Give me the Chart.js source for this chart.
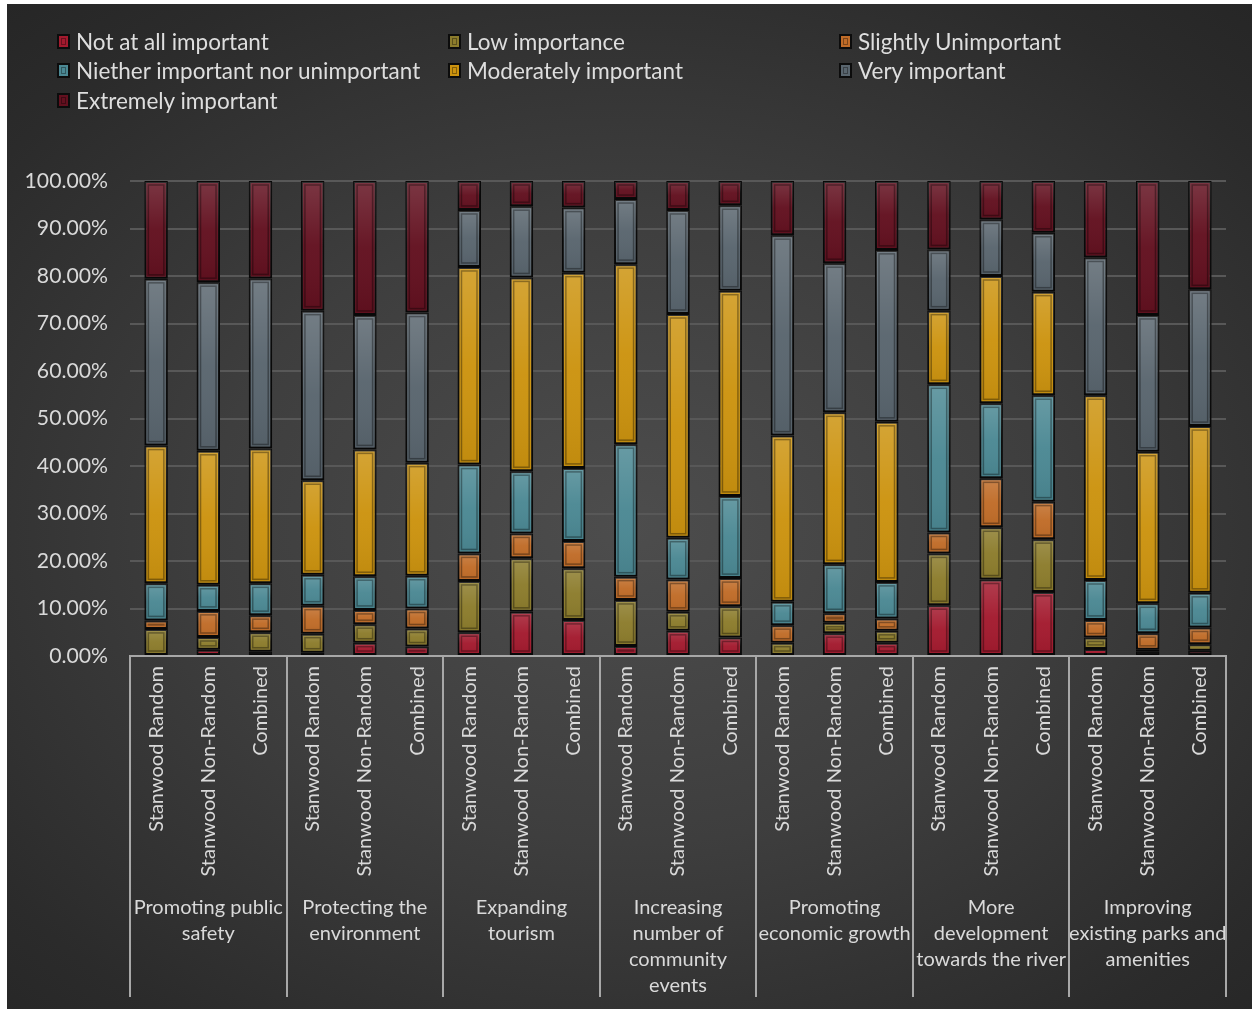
<!DOCTYPE html>
<html>
<head>
<meta charset="utf-8">
<script src="https://cdn.jsdelivr.net/npm/chart.js@4.4.1/dist/chart.umd.min.js"></script>
<style>
  html, body { margin: 0; padding: 0; background: #ffffff; }
  #wrap {
    position: absolute; left: 7px; top: 4px; width: 1245px; height: 1005px;
    background: radial-gradient(ellipse 75% 70% at 50% 52%, #4d4d4d 0%, #3e3e3e 45%, #2b2b2b 85%, #262626 100%);
    overflow: hidden;
  }
  #chart { position: absolute; left: 0; top: 0; }
  #legend {
    position: absolute; left: 50px; top: 24px;
    display: grid; grid-template-columns: 391px 391px 391px; row-gap: 3.5px;
    font-family: Lato, "Open Sans", sans-serif; font-size: 22.5px; color: #dedede;
  }
  .item { display: flex; align-items: center; height: 26px; white-space: nowrap; }
  .box {
    width: 13px; height: 15px; margin-right: 6px; box-sizing: border-box;
    border: 2px solid #0c0c0c; position: relative; flex: none;
  }
  .box::after {
    content: ""; position: absolute; left: 2px; top: 2px; right: 2px; bottom: 2px;
    border: 1px solid rgba(0,0,0,0.35);
  }
</style>
</head>
<body>
<div id="wrap">
  <canvas id="chart" width="1245" height="1005"></canvas>
  <div id="legend"></div>
</div>
<script>
// ---- data ----
const categories = [
  "Stanwood Random", "Stanwood Non-Random", "Combined",
  "Stanwood Random", "Stanwood Non-Random", "Combined",
  "Stanwood Random", "Stanwood Non-Random", "Combined",
  "Stanwood Random", "Stanwood Non-Random", "Combined",
  "Stanwood Random", "Stanwood Non-Random", "Combined",
  "Stanwood Random", "Stanwood Non-Random", "Combined",
  "Stanwood Random", "Stanwood Non-Random", "Combined"
];
const groups = [
  ["Promoting public", "safety"],
  ["Protecting the", "environment"],
  ["Expanding", "tourism"],
  ["Increasing", "number of", "community", "events"],
  ["Promoting", "economic growth"],
  ["More", "development", "towards the river"],
  ["Improving", "existing parks and", "amenities"]
];
const seriesNames = [
  "Not at all important", "Low importance", "Slightly Unimportant",
  "Niether important nor unimportant", "Moderately important", "Very important",
  "Extremely important"
];
const notAtAll   = [0, 1.3, 0.9, 0.7, 2.8, 2.0, 5.0, 9.3, 7.6, 2.1, 5.3, 3.9, 0, 4.8, 2.8, 10.7, 16.1, 13.5, 1.5, 0.9, 1.1];
const lowImp     = [5.7, 2.7, 4.1, 4.0, 3.9, 3.8, 10.8, 11.3, 10.9, 9.7, 4.0, 6.6, 2.8, 2.2, 2.5, 10.9, 11.0, 11.1, 2.4, 0.4, 1.4];
const slightly   = [1.8, 5.5, 3.6, 5.9, 3.0, 4.2, 5.8, 5.2, 5.7, 4.9, 6.8, 5.9, 3.7, 2.0, 2.6, 4.4, 10.3, 7.9, 3.7, 3.5, 3.5];
const neither    = [7.8, 5.5, 6.7, 6.5, 7.1, 6.9, 18.7, 13.1, 15.4, 27.9, 8.8, 17.3, 4.9, 10.3, 7.7, 31.2, 15.8, 22.4, 8.4, 6.3, 7.3];
const moderately = [29.0, 28.2, 28.4, 19.9, 26.7, 23.8, 41.6, 40.8, 41.1, 37.9, 47.1, 43.2, 35.0, 32.0, 33.7, 15.5, 26.8, 21.8, 38.9, 31.9, 35.1];
const veryImp    = [35.1, 35.5, 35.8, 35.7, 28.3, 31.6, 12.0, 15.0, 13.7, 13.7, 21.9, 18.0, 42.2, 31.4, 36.2, 12.9, 11.9, 12.4, 29.0, 28.8, 28.8];
const extremely  = [20.6, 21.3, 20.5, 27.3, 28.2, 27.7, 6.1, 5.3, 5.6, 3.8, 6.1, 5.1, 11.4, 17.3, 14.5, 14.4, 8.1, 10.9, 16.1, 28.2, 22.8];
const yTicks = [0, 10, 20, 30, 40, 50, 60, 70, 80, 90, 100];

const seriesData = [notAtAll, lowImp, slightly, neither, moderately, veryImp, extremely];
const colors = ["#a31a2e", "#8c7c2c", "#c06c28", "#4b8893", "#cc930f", "#59656e", "#62101f"];

const FONT = "Lato, 'Open Sans', sans-serif";
const TEXT = "#d9d9d9";

const datasets = seriesNames.map((n, i) => ({
  label: n,
  data: seriesData[i],
  backgroundColor: colors[i],
  borderColor: "#080808",
  borderWidth: 2,
  borderSkipped: false,
  categoryPercentage: 1,
  barPercentage: 0.45,
  stack: "s"
}));

// bevel / shading plugin
const bevel = {
  id: "bevel",
  afterDatasetsDraw(chart) {
    const ctx = chart.ctx;
    chart.data.datasets.forEach((ds, di) => {
      const meta = chart.getDatasetMeta(di);
      meta.data.forEach(el => {
        const top = Math.min(el.y, el.base), bot = Math.max(el.y, el.base);
        const h = bot - top; if (h < 2) return;
        const l = el.x - el.width / 2, w = el.width;
        ctx.save();
        const g = ctx.createLinearGradient(0, top, 0, bot);
        g.addColorStop(0, "rgba(255,255,255,0.16)");
        g.addColorStop(0.5, "rgba(255,255,255,0.03)");
        g.addColorStop(1, "rgba(0,0,0,0.06)");
        ctx.fillStyle = g;
        ctx.fillRect(l + 1, top + 1, w - 2, h - 2);
        if (h > 8) {
          ctx.strokeStyle = "rgba(0,0,0,0.35)";
          ctx.lineWidth = 1.5;
          ctx.strokeRect(l + 4, top + 4, w - 8, h - 8);
        }
        ctx.restore();
      });
    });
  }
};

// group separators
const separators = {
  id: "separators",
  afterDraw(chart) {
    const ctx = chart.ctx, a = chart.chartArea;
    const n = groups.length, step = (a.right - a.left) / n;
    ctx.save();
    ctx.strokeStyle = "#a8a8a8";
    ctx.lineWidth = 2;
    for (let k = 0; k <= n; k++) {
      const px = Math.round(a.left + k * step);
      ctx.beginPath();
      ctx.moveTo(px, a.bottom);
      ctx.lineTo(px, 993);
      ctx.stroke();
    }
    ctx.restore();
  }
};

const chart = new Chart(document.getElementById("chart"), {
  type: "bar",
  data: { labels: categories, datasets },
  plugins: [bevel, separators],
  options: {
    responsive: false,
    animation: false,
    layout: { padding: { top: 177, right: 26, left: 0, bottom: 0 } },
    plugins: { legend: { display: false }, tooltip: { enabled: false } },
    scales: {
      y: {
        stacked: true, min: 0, max: 100,
        afterFit(s) { s.width = 123; },
        afterBuildTicks(s) { s.ticks = yTicks.map(v => ({ value: v })); },
        ticks: {
          padding: 22, color: TEXT, font: { family: FONT, size: 21.2 },
          callback: v => v.toFixed(2) + "%"
        },
        grid: { color: "#585858", lineWidth: 2, drawTicks: false },
        border: { display: false }
      },
      x: {
        stacked: true, weight: 1,
        afterFit(s) { s.height = 239; },
        ticks: {
          autoSkip: false, minRotation: 90, maxRotation: 90, padding: 10,
          color: TEXT, font: { family: FONT, size: 20 }
        },
        grid: { display: false, drawTicks: false },
        border: { display: true, color: "#a8a8a8", width: 2 }
      },
      x2: {
        type: "category", position: "bottom", weight: 2, labels: groups, offset: true,
        afterFit(s) { s.height = 114; },
        ticks: {
          autoSkip: false, maxRotation: 0, minRotation: 0, padding: 0,
          color: TEXT, font: { family: FONT, size: 20, lineHeight: 1.3 }
        },
        grid: { display: false, drawTicks: false },
        border: { display: false }
      }
    }
  }
});

// legend built from chart datasets
const legendEl = document.getElementById("legend");
chart.data.datasets.forEach(ds => {
  const it = document.createElement("div");
  it.className = "item";
  const b = document.createElement("span");
  b.className = "box";
  b.style.background = ds.backgroundColor;
  const t = document.createElement("span");
  t.textContent = ds.label;
  it.appendChild(b); it.appendChild(t);
  legendEl.appendChild(it);
});
</script>
</body>
</html>
